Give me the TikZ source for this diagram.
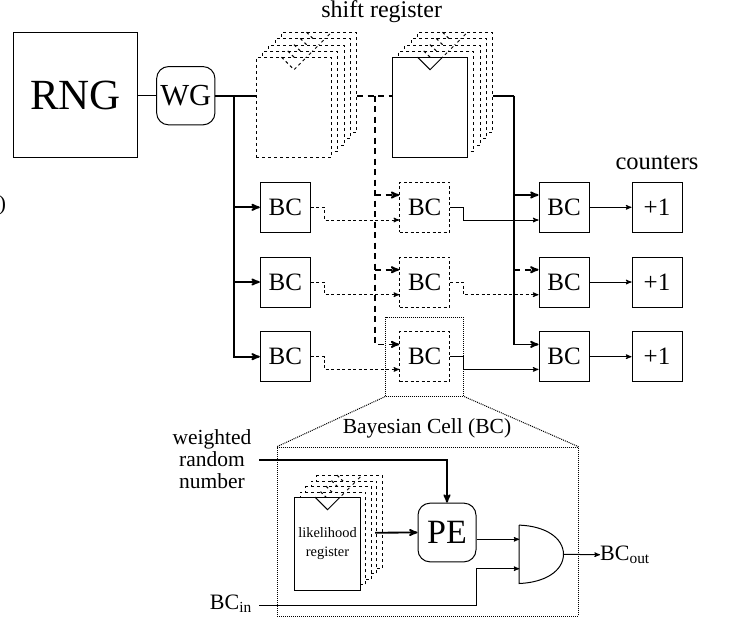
\documentclass[tikz,border=0pt]{standalone}
\usepackage{fontspec}
\setmainfont{Liberation Serif}
\usetikzlibrary{arrows}

\newcommand{\fsize}[1]{\fontsize{#1}{#1}\selectfont}
% stack of registers: name, x, y, width, height, step, front style
\newcommand{\regstack}[7]{
	\foreach \i in {4,3,2,1} {
		\node[regbox,dashed,minimum width=#4pt,minimum height=#5pt] (#1b\i) at (#2pt+\i*#6pt,#3pt+\i*#6pt) {};
		\draw[thin wire,dashed] ([xshift=-12.5pt]#1b\i.north) -- ([yshift=-12.5pt]#1b\i.north) -- ([xshift=12.5pt]#1b\i.north);
	}
	\node[regbox,#7,minimum width=#4pt,minimum height=#5pt] (#1) at (#2pt,#3pt) {};
	\draw[thin wire,#7] ([xshift=-12.5pt]#1.north) -- ([yshift=-12.5pt]#1.north) -- ([xshift=12.5pt]#1.north);
}

\begin{document}
\begin{tikzpicture}[>={stealth'[scale=1.5]},x=1pt,y=1pt,node distance=74.7pt,
	thin wire/.style={line width=1pt},
	bus/.style={line width=1.8pt},
	busdash/.style={line width=1.8pt,dash pattern=on 6pt off 4.5pt},
	wiredash/.style={line width=1pt,dash pattern=on 3pt off 2.5pt},
	regbox/.style={rectangle,draw,fill=white,line width=1pt,inner sep=0pt},
	bcbox/.style={rectangle,draw,line width=1pt,minimum size=50pt,inner sep=0pt,font=\fsize{25}},
	bcdash/.style={bcbox,dash pattern=on 3pt off 2.5pt},
	zoomline/.style={line width=1pt,dash pattern=on 1pt off 1pt},
	label text/.style={inner sep=0pt,font=\fsize{21.5},align=center}]

	\useasboundingbox (0,0) rectangle (731,-622);

	\node[rectangle,draw,line width=1pt,minimum size=124.5pt,inner sep=0pt,font=\fsize{43}] (rng) at (75.5,-95.2) {RNG};
	\node[rectangle,rounded corners=12pt,draw,line width=1pt,minimum size=58.3pt,inner sep=0pt,font=\fsize{30.6}] (wg) at (185.8,-95.7) {WG};

	\regstack{regs}{294}{-107.7}{75.4}{100}{6.25}{dashed}
	\regstack{regt}{430}{-107.7}{75.4}{100}{6.25}{solid}

	\node[label text,font=\fsize{24}] (shift) at (381.7,-12) {shift register};
	\node[label text,font=\fsize{24.5}] (counters) at (657,-163) {counters};
	\node[label text] (paren) at (2.5,-205) {)};

	\node[bcbox] (bcl1) at (285.3,-207.3) {BC};
	\node[bcbox] (bcl2) [below of=bcl1] {BC};
	\node[bcbox] (bcl3) [below of=bcl2] {BC};
	\node[bcdash] (bcm1) at (424.7,-207.3) {BC};
	\node[bcdash] (bcm2) [below of=bcm1] {BC};
	\node[bcdash] (bcm3) [below of=bcm2] {BC};
	\node[bcbox] (bcr1) at (564,-207.3) {BC};
	\node[bcbox] (bcr2) [below of=bcr1] {BC};
	\node[bcbox] (bcr3) [below of=bcr2] {BC};
	\node[bcbox] (cnt1) at (657,-207.3) {+1};
	\node[bcbox] (cnt2) [below of=cnt1] {+1};
	\node[bcbox] (cnt3) [below of=cnt2] {+1};

	\coordinate (busl) at (234,-95.7);
	\coordinate (busm) at (375,-95.7);
	\coordinate (busr) at (514.3,-95.7);
	\foreach \r in {1,2,3} {
		\coordinate (inm\r) at ([yshift=12.3pt]bcm\r.west);
		\coordinate (inr\r) at ([yshift=12.3pt]bcr\r.west);
	}

	% random number buses
	\draw[thin wire] (rng.east |- wg) -- (wg);
	\draw[bus] (wg) -- (regs.west |- wg);
	\draw[busdash] (regsb4.east |- wg) -- (regt.west |- wg);
	\draw[bus] (regtb4.east |- wg) -- (busr);
	\draw[bus,->] (busl) |- (bcl3);
	\draw[bus,->] (busl |- bcl1) -- (bcl1);
	\draw[bus,->] (busl |- bcl2) -- (bcl2);
	\draw[busdash,->] (busm) |- (inm3);
	\draw[busdash,->] (busm |- inm1) -- (inm1);
	\draw[busdash,->] (busm |- inm2) -- (inm2);
	\draw[bus,->] (busr) |- (inr3);
	\draw[bus,->] (busr |- inr1) -- (inr1);
	\draw[busdash,->] (busr |- inr2) -- (inr2);

	% cell to cell
	\foreach \r in {1,2,3} {
		\draw[wiredash,->] (bcl\r.east) -- ++(13.7pt,0) |- ([yshift=-12.7pt]bcm\r.west);
		\draw[thin wire,->] (bcr\r) -- (cnt\r);
	}
	\draw[thin wire,->] (bcm1.east) -- ++(13pt,0) |- ([yshift=-12.7pt]bcr1.west);
	\draw[wiredash,->] (bcm2.east) -- ++(13pt,0) |- ([yshift=-12.7pt]bcr2.west);
	\draw[thin wire,->] (bcm3.east) -- ++(13pt,0) |- ([yshift=-12.7pt]bcr3.west);

	% close-up of one cell
	\node[rectangle,draw,zoomline,minimum width=78pt,minimum height=78.7pt,inner sep=0pt] (zooma) at (424.7,-356.7) {};
	\node[rectangle,draw,zoomline,minimum width=301.3pt,minimum height=168.7pt,inner sep=0pt] (zoomb) at (427.7,-531.7) {};
	\draw[zoomline] (zooma.south west) -- (zoomb.north west);
	\draw[zoomline] (zooma.south east) -- (zoomb.north east);
	\node[label text] (bayes) at (427,-428) {Bayesian Cell (BC)};

	\regstack{regh}{327.5}{-544}{65.6}{92.6}{5.5}{solid}
	\node[inner sep=0pt,font=\fsize{14.4},align=center] (reglabel) at (327.5,-543.5) {likelihood\\[5pt]register};

	\node[rectangle,rounded corners=12pt,draw,line width=1pt,minimum width=58pt,minimum height=58.7pt,inner sep=0pt,font=\fsize{34}] (pe) at (447,-532.5) {PE};
	\node[rectangle,minimum width=44pt,minimum height=58pt,inner sep=0pt] (gate) at (541.3,-554.3) {};
	\draw[thin wire] (gate.north west) -- (gate.south west) .. controls (545,-582.5) and (563.3,-571) .. (gate.east) .. controls (563.3,-537.5) and (545,-526) .. (gate.north west);

	\node[label text] (wrn) at (212,-459) {weighted\\[0.5pt]random\\[0.5pt]number};
	\node[inner sep=0pt,font=\fsize{22},anchor=east] (bcin) at (252,-604) {BC\textsubscript{in}};
	\node[inner sep=0pt,font=\fsize{22},anchor=west] (bcout) at (600,-555) {BC\textsubscript{out}};

	\coordinate (wrnend) at (259,-460);
	\coordinate (bcinend) at (259,-605);
	\coordinate (reghout) at (375,-532.7);
	\coordinate (bcinup) at (476,-568.7);
	\coordinate (gatein1) at (519.3,-539.3);
	\coordinate (gatein2) at (519.3,-568.7);

	\draw[bus,->] (wrnend) -| (pe.north);
	\draw[bus,->] (reghout) -- (pe.west);
	\draw[thin wire,->] (pe.east |- gatein1) -- (gatein1);
	\draw[thin wire,->] (bcinend) -| (bcinup) -- (gatein2);
	\draw[thin wire,->] (gate.east) -- (bcout);
\end{tikzpicture}
\end{document}
